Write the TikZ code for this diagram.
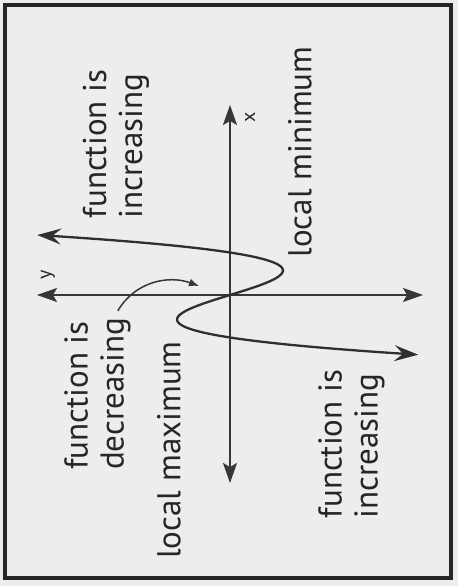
\documentclass[tikz,border=0pt]{standalone}
\usepackage{fontspec}
\setmainfont{PT Sans}
\usetikzlibrary{arrows.meta,positioning}
\definecolor{paper}{RGB}{237,237,235}
\definecolor{ink}{RGB}{55,55,55}

\begin{document}
\begin{tikzpicture}[
	x=1pt, y=1pt,
	every node/.style={text=black!85},
	label/.style={rotate=90, align=left, inner sep=0pt, font=\fontsize{33}{36}\selectfont},
	axlabel/.style={rotate=90, inner sep=0pt, font=\fontsize{20}{22}\selectfont},
	axis/.style={draw=ink, line width=1.8pt, {Stealth[length=20pt,width=14pt,inset=4pt]}-{Stealth[length=20pt,width=14pt,inset=4pt]}},
	graph/.style={draw=ink!85!black, line width=2.3pt, {Stealth[length=24pt,width=16pt,inset=9pt]}-{Stealth[length=24pt,width=16pt,inset=9pt]}},
	pointer/.style={draw=ink, line width=1.5pt, -{Latex[length=10pt,width=8pt]}}
	]
	
	\useasboundingbox[fill=paper] (0,0) rectangle (458,586);
	\draw[line width=3.5pt, black!85] (5,8) rectangle (451,581);
	
	% axes and curve, turned a quarter
	\begin{scope}[shift={(230,291)}, rotate=90]
		\draw[axis] (-188,0) -- (190,0);
		\draw[axis] (0,-193) -- (0,193);
		\draw[graph] plot[smooth, samples=80, domain=-5.97:6] ({10*\x}, {1.793*\x*(\x*\x-18.06)});
	\end{scope}
	
	\node[axlabel] (xlab) at (250,469) {x};
	\node[axlabel] (ylab) at (48,311) {y};
	
	\node[label] (incup) at (116,442) {function is\\increasing};
	\node[label] (dec) at (97.5,192) {function is\\decreasing};
	\node[label] (lmax) at (169,136) {local maximum};
	\node[label] (incdown) at (351.5,142) {function is\\increasing};
	\node[label] (lmin) at (300,434) {local minimum};
	
	\coordinate (dectip) at (199,300);
	\draw[pointer] ([shift={(-13,7)}]dec.south east) to[out=60, in=160] (dectip);
	
\end{tikzpicture}
\end{document}
